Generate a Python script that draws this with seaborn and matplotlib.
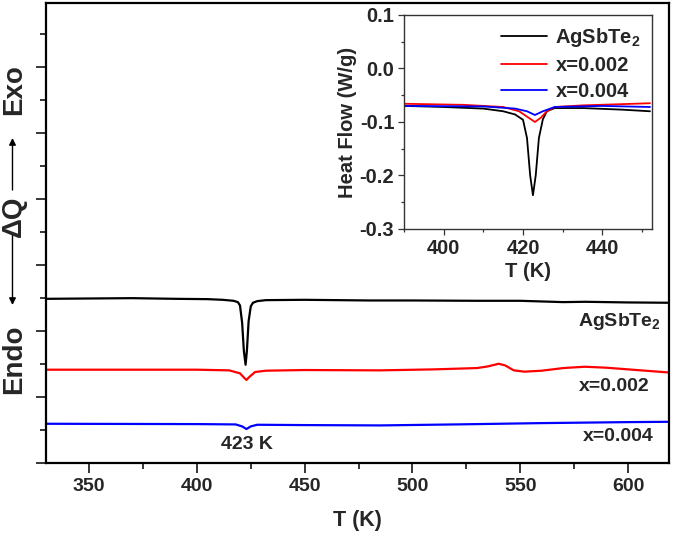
import numpy as np
import pandas as pd
import matplotlib
matplotlib.use("Agg")
import matplotlib.pyplot as plt
import seaborn as sns
from matplotlib.ticker import MultipleLocator

# ---- main panel data (temperature in K, heat flow in arbitrary offset units) ----
t_black = [330, 350, 370, 390, 405, 412, 417, 419, 420, 421, 421.8, 422.6, 423.2, 424, 425,
           426, 428, 432, 450, 480, 500, 530, 550, 560, 570, 580, 600, 620]
q_black = [4.98, 4.99, 5.00, 4.98, 4.97, 4.95, 4.92, 4.88, 4.78, 4.25, 3.40, 2.98, 3.40, 4.30, 4.75,
           4.86, 4.91, 4.94, 4.95, 4.93, 4.93, 4.92, 4.92, 4.90, 4.88, 4.89, 4.87, 4.86]

t_red = [330, 400, 415, 420, 422, 423, 424.5, 427, 432, 450, 485, 510, 530, 535, 540,
         543, 547, 552, 560, 570, 580, 590, 600, 610, 620]
q_red = [2.83, 2.83, 2.81, 2.72, 2.58, 2.52, 2.62, 2.76, 2.80, 2.82, 2.81, 2.84, 2.88, 2.93, 3.01,
         2.96, 2.81, 2.77, 2.80, 2.88, 2.92, 2.89, 2.84, 2.79, 2.74]

t_blue = [330, 400, 418, 421, 423, 425, 428, 450, 485, 520, 560, 600, 620]
q_blue = [1.19, 1.18, 1.17, 1.11, 1.03, 1.11, 1.16, 1.15, 1.14, 1.17, 1.21, 1.24, 1.25]

# ---- inset data (heat flow in W/g) ----
ti_black = [390, 400, 410, 415, 418, 420, 421, 421.8, 422.5, 423.2, 424, 425, 426, 428, 435, 445, 452]
hi_black = [-0.070, -0.072, -0.075, -0.080, -0.086, -0.096, -0.13, -0.20, -0.237, -0.20, -0.13,
            -0.095, -0.080, -0.074, -0.074, -0.077, -0.080]

ti_red = [390, 405, 415, 419, 421, 423, 424.5, 426, 428, 435, 452]
hi_red = [-0.066, -0.068, -0.072, -0.080, -0.090, -0.100, -0.092, -0.080, -0.072, -0.069, -0.065]

ti_blue = [390, 410, 418, 421, 423, 425, 428, 440, 452]
hi_blue = [-0.070, -0.071, -0.075, -0.080, -0.087, -0.080, -0.072, -0.070, -0.072]

labels = ["AgSbTe$_2$", "x=0.002", "x=0.004"]
colors = ["black", "#ff0000", "#0000ff"]

sns.set_style("ticks")
plt.rcParams['font.family'] = ['Liberation Sans', 'DejaVu Sans']
plt.rcParams['font.weight'] = 'bold'
plt.rcParams['mathtext.fontset'] = 'custom'
plt.rcParams['mathtext.rm'] = 'Liberation Sans:bold'
plt.rcParams['mathtext.it'] = 'Liberation Sans:bold'
plt.rcParams['mathtext.bf'] = 'Liberation Sans:bold'

fig = plt.figure(figsize=(6.75, 5.36), dpi=100)
ax = fig.add_axes([0.0681, 0.1362, 0.923, 0.858])

for t, q, c in zip([t_black, t_red, t_blue], [q_black, q_red, q_blue], colors):
    sns.lineplot(x=t, y=q, ax=ax, color=c, linewidth=1.6, sort=False, estimator=None)

ax.set_xlim(330, 619)
ax.set_ylim(0, 13.95)
ax.xaxis.set_major_locator(MultipleLocator(50))
ax.xaxis.set_minor_locator(MultipleLocator(25))
ax.yaxis.set_major_locator(MultipleLocator(2))
ax.yaxis.set_minor_locator(MultipleLocator(1))
ax.set_yticklabels([])
ax.tick_params(axis='both', which='major', direction='out', length=7, width=1.3, labelsize=14)
ax.tick_params(axis='both', which='minor', direction='out', length=4, width=1.3)
for lbl in ax.get_xticklabels():
    lbl.set_fontweight('bold')
for s in ax.spines.values():
    s.set_linewidth(1.6)
    s.set_color('black')
ax.set_xlabel("T (K)", fontsize=15.5, fontweight='bold', labelpad=11)
ax.set_ylabel("")

ax.text(595.8, 4.29, labels[0], fontsize=14, ha='center', va='center')
ax.text(593.5, 2.31, labels[1], fontsize=14, ha='center', va='center')
ax.text(595.4, 0.79, labels[2], fontsize=14, ha='center', va='center')
ax.text(423.1, 0.55, "423 K", fontsize=14, ha='center', va='center')

# y axis label: Endo <- dQ -> Exo
fig.text(0.0205, 0.832, "Exo", rotation=90, fontsize=20, ha='center', va='center')
fig.text(0.0205, 0.597, "ΔQ", rotation=90, fontsize=20, ha='center', va='center')
fig.text(0.0205, 0.330, "Endo", rotation=90, fontsize=20, ha='center', va='center')
arrow = dict(arrowstyle='-|>', color='black', lw=1.0, mutation_scale=10, shrinkA=0, shrinkB=0)
fig.add_artist(plt.Annotation("", xy=(0.0185, 0.7425), xytext=(0.0185, 0.6455),
                              xycoords='figure fraction', textcoords='figure fraction', arrowprops=arrow))
fig.add_artist(plt.Annotation("", xy=(0.0185, 0.431), xytext=(0.0185, 0.5616),
                              xycoords='figure fraction', textcoords='figure fraction', arrowprops=arrow))

# ---- inset ----
axin = fig.add_axes([0.5985, 0.5728, 0.3674, 0.3993])
for t, h, c, lab in zip([ti_black, ti_red, ti_blue], [hi_black, hi_red, hi_blue], colors, labels):
    sns.lineplot(x=t, y=h, ax=axin, color=c, linewidth=1.3, sort=False, estimator=None, label=lab)

axin.set_xlim(390, 452.5)
axin.set_ylim(-0.3, 0.1)
axin.xaxis.set_major_locator(MultipleLocator(20))
axin.xaxis.set_minor_locator(MultipleLocator(10))
axin.yaxis.set_major_locator(MultipleLocator(0.1))
axin.yaxis.set_minor_locator(MultipleLocator(0.05))
axin.yaxis.set_major_formatter(matplotlib.ticker.FormatStrFormatter('%.1f'))
axin.tick_params(axis='both', which='major', direction='out', length=4, width=0.9,
                 color='#333333', labelsize=14.5, pad=3)
axin.tick_params(axis='both', which='minor', direction='out', length=2.5, width=0.9, color='#333333')
for lbl in axin.get_xticklabels() + axin.get_yticklabels():
    lbl.set_fontweight('bold')
for s in axin.spines.values():
    s.set_linewidth(1.0)
    s.set_color('#333333')
axin.set_xlabel("T (K)", fontsize=14.5, fontweight='bold', labelpad=3)
axin.set_ylabel("Heat Flow (W/g)", fontsize=14.5, fontweight='bold', labelpad=2)
axin.legend(loc='upper right', frameon=False, fontsize=14.5, handlelength=2.3,
            handletextpad=0.4, labelspacing=0.35, borderaxespad=0.15)

fig.savefig("out.png", dpi=100)
